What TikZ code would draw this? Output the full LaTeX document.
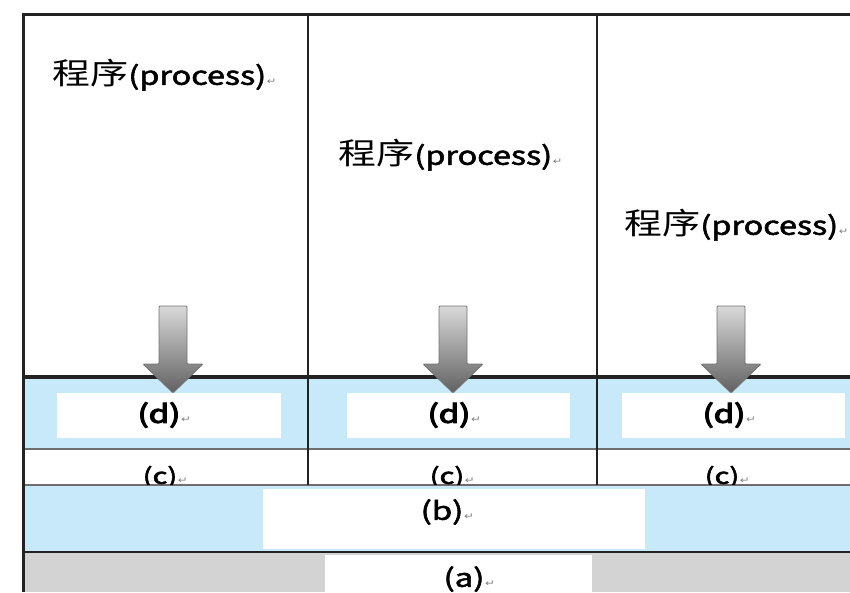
\documentclass[tikz,border=0pt]{standalone}
\usepackage{fontspec}
\setmainfont{Noto Sans CJK TC}
\newfontfamily\cjk{Noto Sans CJK TC}
\newfontfamily\lat{Noto Sans CJK TC}[FakeBold=2]
\newfontfamily\latb{Noto Sans CJK TC}[FakeBold=4]
\newfontfamily\symfont{DejaVu Sans}
\definecolor{lblue}{HTML}{C7E9F9}
\definecolor{lgray}{HTML}{D3D3D4}
\definecolor{darkline}{HTML}{222222}
\definecolor{midline}{HTML}{6E6E6E}
\newcommand{\pmark}{\rlap{\kern0.5pt{\symfont\color{gray}\fontsize{9}{9}\selectfont ↵}}}
\newcommand{\wide}[1]{\scalebox{1.32}[1]{#1}}
\newcommand{\pwide}[1]{\scalebox{1.27}[1]{#1}}
\begin{document}
\begin{tikzpicture}[x=1pt,y=-1pt,
  proc/.style={anchor=west,inner sep=0pt},
  lab/.style={inner sep=0pt,font=\lat\fontsize{25}{25}\selectfont},
  labd/.style={inner sep=0pt,font=\latb\fontsize{25}{25}\selectfont},
  labc/.style={inner sep=0pt,font=\lat\fontsize{22}{22}\selectfont},
  blockarrow/.style={top color=black!15,bottom color=black!62,draw=black!55,line width=0.8pt,rounded corners=1pt}]
\useasboundingbox (0,0) rectangle (850,592);
% backgrounds
\fill[lblue] (23,377) rectangle (850,449);
\fill[white] (57,393) rectangle (281,438);
\fill[white] (347,393) rectangle (570,438);
\fill[white] (622,393) rectangle (845,438);
\fill[lblue] (23,485) rectangle (850,551);
\fill[white] (263,489) rectangle (645,549);
\fill[lgray] (23,551) rectangle (850,592);
\fill[white] (325,555) rectangle (592,592);
% lines
\draw[midline,line width=2pt] (23,449) -- (850,449);
\draw[midline,line width=2pt] (23,485) -- (850,485);
\draw[darkline,line width=2pt] (23,551.5) -- (850,551.5);
\draw[darkline,line width=2.5pt] (308,14) -- (308,485);
\draw[darkline,line width=2.5pt] (597,14) -- (597,485);
\draw[darkline,line width=3.5pt] (23,377) -- (850,377);
\draw[darkline,line width=3pt] (850,14) -- (23,14) -- (23,592);
% block arrows
\foreach \cx in {173,453,731}{
  \shade[blockarrow] (\cx-14,306) -- (\cx+14,306) -- (\cx+14,364) -- (\cx+30,364)
    -- (\cx,393) -- (\cx-30,364) -- (\cx-14,364) -- cycle;
}
% texts
\newcommand{\proctext}{\pwide{{\cjk\fontsize{30}{30}\selectfont 程序}{\lat\fontsize{25.5}{26}\selectfont (process)}\pmark}}
\node[proc] (p1) at (52,75) {\proctext};
\node[proc] (p2) at (338,155) {\proctext};
\node[proc] (p3) at (624,225) {\proctext};
\node[labd] (d1) at (159,415) {\wide{(d)\pmark}};
\node[labd] (d2) at (449,415) {\wide{(d)\pmark}};
\node[labd] (d3) at (724,415) {\wide{(d)\pmark}};
\begin{scope}
\clip (23,450) rectangle (850,484);
\node[labc] (c1) at (160,477) {\wide{(c)\pmark}};
\node[labc] (c2) at (447,477) {\wide{(c)\pmark}};
\node[labc] (c3) at (722,477) {\wide{(c)\pmark}};
\end{scope}
\node[lab] (b) at (442,512) {\wide{(b)\pmark}};
\node[lab] (a) at (464,579) {\wide{(a)\pmark}};
\end{tikzpicture}
\end{document}
